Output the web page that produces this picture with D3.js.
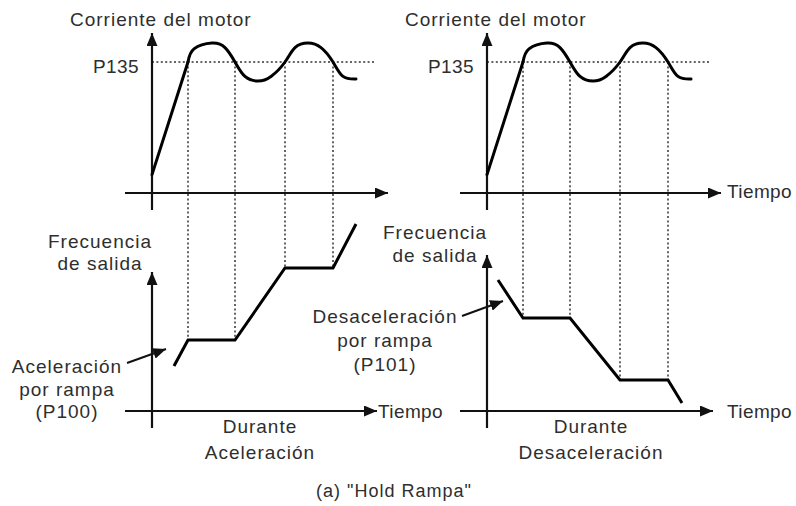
<!DOCTYPE html>
<html>
<head>
<meta charset="utf-8">
<script src="https://cdn.jsdelivr.net/npm/d3@7"></script>
<style>
  html, body { margin: 0; padding: 0; background: #fff; }
  svg { display: block; }
  text { font-family: "Liberation Sans", Arial, Helvetica, sans-serif; font-size: 19px; fill: #2e2e2e; letter-spacing: 1px; }
  text.short { letter-spacing: 0.4px; }
</style>
</head>
<body>
<svg id="chart" width="796" height="506"></svg>
<script>
// Instants (time units) where the motor current crosses the P135 limit
const holdTimes = [3.6, 8.3, 13.3, 18.1];

// Motor current, relative to the P135 limit (1 = P135)
const currentT = [0, 3.6, 4.2, 6.0, 7.3, 8.3, 9.3, 10.6, 11.9, 13.3, 14.3, 15.6, 16.9, 18.1, 19.1, 20.4];
const currentI = [0.14, 1.0, 1.10, 1.145, 1.11, 1.0, 0.89, 0.855, 0.89, 1.0, 1.11, 1.145, 1.11, 1.0, 0.89, 0.87];

// Output frequency (%) during acceleration
const accelT = [2.2, 3.6, 8.3, 13.3, 18.1, 20.4];
const accelF = [22.5, 35.5, 35.5, 71.5, 71.5, 93.5];

// Output frequency (%) during deceleration
const decelT = [1.1, 3.6, 8.3, 13.3, 18.1, 19.5];
const decelF = [65.5, 46.5, 46.5, 15.5, 15.5, 4];

const svg = d3.select("#chart");

// arrowhead
svg.append("defs").append("marker")
  .attr("id", "head")
  .attr("viewBox", "0 0 10 10")
  .attr("refX", 10).attr("refY", 5)
  .attr("markerWidth", 13).attr("markerHeight", 11)
  .attr("markerUnits", "userSpaceOnUse")
  .attr("preserveAspectRatio", "none")
  .attr("orient", "auto")
  .append("path").attr("d", "M0,0L10,5L0,10Z").attr("fill", "#111");

// shared scales (x in time units, relative to each panel origin)
const x = d3.scaleLinear().domain([0, 24]).range([0, 240]);
const yI = d3.scaleLinear().domain([0, 1]).range([193, 62]);
const yF = d3.scaleLinear().domain([0, 100]).range([411, 211]);

const panels = [
  { ox: 152, fT: accelT, fF: accelF, fArrowTop: 272, curTiempo: false },
  { ox: 487, fT: decelT, fF: decelF, fArrowTop: 255, curTiempo: true }
];

function arrowLine(g, x1, y1, x2, y2, w) {
  g.append("line")
    .attr("x1", x1).attr("y1", y1).attr("x2", x2).attr("y2", y2)
    .attr("stroke", "#111").attr("stroke-width", w || 2.2)
    .attr("marker-end", "url(#head)");
}

panels.forEach(p => {
  const g = svg.append("g").attr("transform", `translate(${p.ox},0)`);
  const fAt = t => p.fF[p.fT.indexOf(t)];

  // P135 reference level
  g.append("line")
    .attr("x1", 0).attr("x2", x(22.3))
    .attr("y1", yI(1)).attr("y2", yI(1))
    .attr("stroke", "#333").attr("stroke-width", 1.5)
    .attr("stroke-dasharray", "2,2.4");

  // vertical guides from the P135 crossings down to the frequency plateaus
  g.selectAll(".guide").data(holdTimes).join("line")
    .attr("class", "guide")
    .attr("x1", d => x(d)).attr("x2", d => x(d))
    .attr("y1", yI(1)).attr("y2", d => yF(fAt(d)))
    .attr("stroke", "#333").attr("stroke-width", 1.5)
    .attr("stroke-dasharray", "2,2.4");

  // current axes
  arrowLine(g, 0, 210, 0, 33);
  arrowLine(g, -27, 193, p.curTiempo ? 234 : 236, 193);

  // frequency axes
  arrowLine(g, 0, 428, 0, p.fArrowTop);
  arrowLine(g, -27, 411, p.curTiempo ? 226 : 225, 411);

  // motor current: linear ramp then oscillation around P135
  const cur = currentT.map((t, i) => [t, currentI[i]]);
  g.append("path")
    .attr("d", d3.line().x(d => x(d[0])).y(d => yI(d[1]))(cur.slice(0, 2)))
    .attr("fill", "none").attr("stroke", "#000").attr("stroke-width", 3)
    .attr("stroke-linecap", "round");
  g.append("path")
    .attr("d", d3.line().x(d => x(d[0])).y(d => yI(d[1]))
      .curve(d3.curveNatural)(cur.slice(1)))
    .attr("fill", "none").attr("stroke", "#000").attr("stroke-width", 3)
    .attr("stroke-linecap", "round");

  // output frequency with hold plateaus
  g.append("path")
    .attr("d", d3.line().x(d => x(d[0])).y(d => yF(d[1]))(p.fT.map((t, i) => [t, p.fF[i]])))
    .attr("fill", "none").attr("stroke", "#000").attr("stroke-width", 3)
    .attr("stroke-linejoin", "miter");

  // labels
  g.append("text").attr("x", -82).attr("y", 26).text("Corriente del motor");
  g.append("text").attr("class", "short").attr("x", -13).attr("y", 73)
    .attr("text-anchor", "end").text("P135");
});

const txt = (xx, yy, s, anchor, cls) =>
  svg.append("text").attr("x", xx).attr("y", yy).attr("class", cls || null)
    .attr("text-anchor", anchor || "start").text(s);

txt(727, 198, "Tiempo", "start", "short");
txt(378, 418, "Tiempo", "start", "short");
txt(727, 418, "Tiempo", "start", "short");

txt(100, 248, "Frecuencia", "middle");
txt(100, 270, "de salida", "middle");
txt(435, 239, "Frecuencia", "middle");
txt(435, 262, "de salida", "middle");

txt(67, 373, "Aceleración", "middle");
txt(67, 396, "por rampa", "middle");
txt(67, 418, "(P100)", "middle");

txt(385, 323, "Desaceleración", "middle");
txt(385, 347, "por rampa", "middle");
txt(385, 371, "(P101)", "middle");

txt(260, 433, "Durante", "middle");
txt(260, 459, "Aceleración", "middle");
txt(591, 433, "Durante", "middle");
txt(591, 459, "Desaceleración", "middle");

svg.append("text").attr("x", 394).attr("y", 497).attr("text-anchor", "middle")
  .style("font-size", "18px").text("(a) \"Hold Rampa\"");

// pointers to the ramp segments
arrowLine(svg, 127, 363, 166, 349, 2);
arrowLine(svg, 462, 316, 503, 301, 2);
</script>
</body>
</html>
